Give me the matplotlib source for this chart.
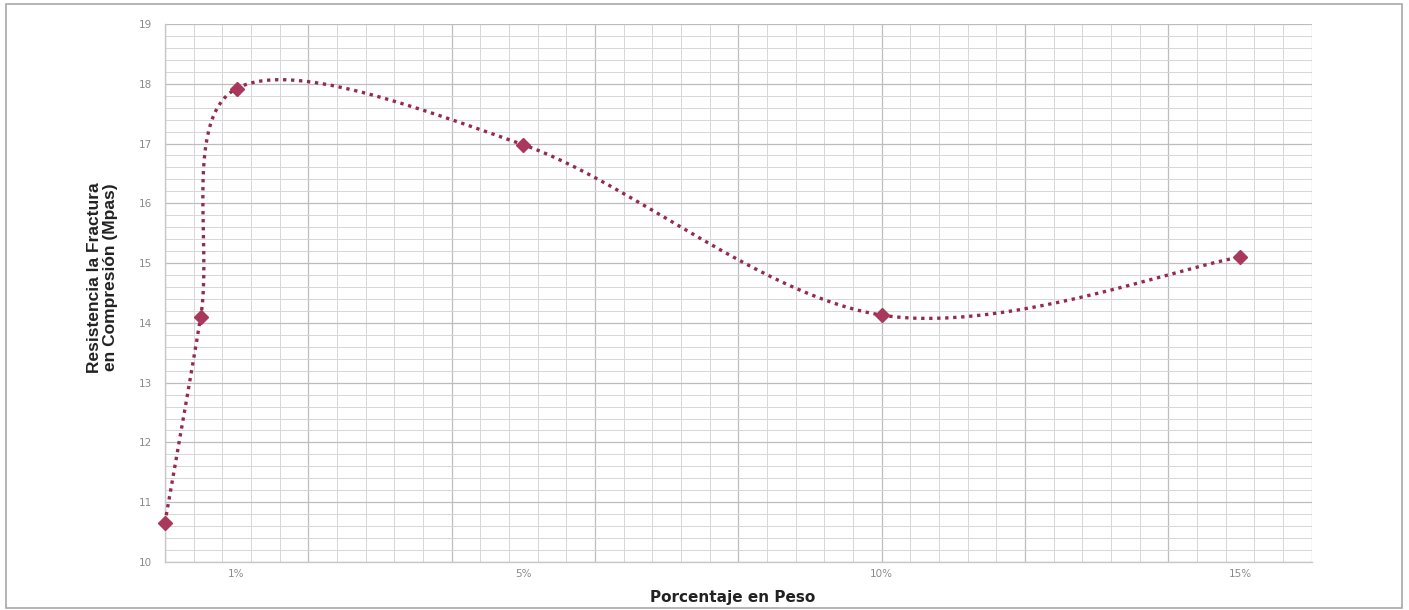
import numpy as np
import matplotlib
matplotlib.use("Agg")
import matplotlib.pyplot as plt
from matplotlib.patches import Rectangle

# Porcentaje en peso (%) y resistencia a compresión (MPa)
porcentaje = [0.0, 0.5, 1.0, 5.0, 10.0, 15.0]
resistencia = [10.65, 14.1, 17.92, 16.98, 14.13, 15.1]

xtick_vals = [1, 5, 10, 15]
xtick_labels = ["1%", "5%", "10%", "15%"]
ytick_vals = list(range(10, 20))

LINE_COLOR = "#962a4a"
MARK_COLOR = "#a8385c"

fig = plt.figure(figsize=(14.09, 6.10), dpi=100)
fig.patches.append(Rectangle((0.004, 0.004), 0.991, 0.989, transform=fig.transFigure,
                             fill=False, edgecolor="#a8a8a8", linewidth=1.2))

ax = fig.add_axes([0.117, 0.0787, 0.814, 0.882])
ax.set_xlim(0, 16)
ax.set_ylim(10, 19)

# grid: major and minor
ax.set_xticks(np.arange(0, 16.01, 2), minor=False)
ax.set_xticks(np.arange(0, 16.01, 0.4), minor=True)
ax.set_yticks(ytick_vals)
ax.set_yticks(np.arange(10, 19.01, 0.2), minor=True)
ax.grid(which="major", color="#bdbdbd", linewidth=0.9)
ax.grid(which="minor", color="#d6d6d6", linewidth=0.7)
ax.set_axisbelow(True)
for s in ["top", "right"]:
    ax.spines[s].set_visible(False)
for s in ["left", "bottom"]:
    ax.spines[s].set_color("#c8c8c8")
    ax.spines[s].set_linewidth(1.0)

ax.tick_params(which="both", length=0)
ax.set_xticklabels([])
ax.set_yticklabels([str(v) for v in ytick_vals], color="#8a8a8a", fontsize=7.5)
ax.tick_params(axis="y", pad=9)
for xv, lab in zip(xtick_vals, xtick_labels):
    ax.text(xv, 9.8, lab, ha="center", va="center", fontsize=7.5, color="#8a8a8a")

# smoothed curve (Bezier between points, control points at 1/6 of neighbours, in display space)
fig.canvas.draw()
pts = ax.transData.transform(np.column_stack([porcentaje, resistencia]))
n = len(pts)
curve = []
t = np.linspace(0, 1, 60)[:, None]
for i in range(n - 1):
    p0 = pts[i - 1] if i > 0 else pts[i]
    p1 = pts[i]
    p2 = pts[i + 1]
    p3 = pts[i + 2] if i + 2 < n else pts[i + 1]
    c1 = p1 + (p2 - p0) / 6.0
    c2 = p2 - (p3 - p1) / 6.0
    seg = ((1 - t) ** 3) * p1 + 3 * ((1 - t) ** 2) * t * c1 + 3 * (1 - t) * t ** 2 * c2 + t ** 3 * p2
    curve.append(seg if i == 0 else seg[1:])
curve = np.vstack(curve)
curve_data = ax.transData.inverted().transform(curve)

ax.plot(curve_data[:, 0], curve_data[:, 1], color=LINE_COLOR, linewidth=2.4,
        linestyle=(0, (1, 1.4)), dash_capstyle="butt", clip_on=False, zorder=3)
ax.plot(porcentaje, resistencia, linestyle="none", marker="D", markersize=7,
        color=MARK_COLOR, markeredgecolor=MARK_COLOR, clip_on=False, zorder=4)

fig.text(0.52, 0.021, "Porcentaje en Peso", ha="center", va="center",
         fontsize=11, fontweight="bold", color="#222222")
fig.text(0.0725, 0.545, "Resistencia la Fractura\nen Compresión (Mpas)", ha="center",
         va="center", rotation=90, fontsize=12.5, fontweight="bold",
         family="Liberation Sans", color="#222222", linespacing=1.1)

fig.savefig("out.png", dpi=100)
